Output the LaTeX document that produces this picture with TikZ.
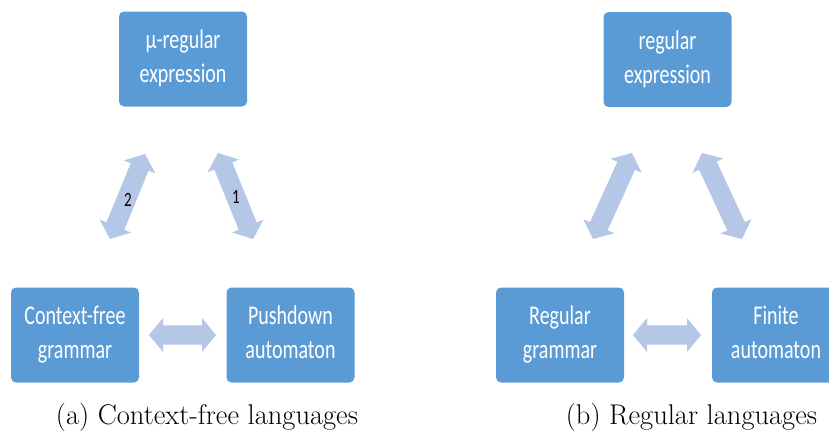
\documentclass[tikz,border=0pt]{standalone}
\usepackage{fontspec}
\usepackage{graphicx}
\newfontfamily\boxfont{Carlito}
\usetikzlibrary{calc}
\definecolor{boxblue}{HTML}{5B9BD5}
\definecolor{arrowblue}{HTML}{B4C7E7}

% two-headed block arrow between two named coordinates
\newcommand\twowayarrow[2]{%
  \fill[arrowblue] (#1)
    -- ($(#1)!14pt!(#2)!17pt!90:(#2)$)
    -- ($(#1)!14pt!(#2)!9.7pt!90:(#2)$)
    -- ($(#2)!14pt!(#1)!9.7pt!-90:(#1)$)
    -- ($(#2)!14pt!(#1)!17pt!-90:(#1)$)
    -- (#2)
    -- ($(#2)!14pt!(#1)!17pt!90:(#1)$)
    -- ($(#2)!14pt!(#1)!9.7pt!90:(#1)$)
    -- ($(#1)!14pt!(#2)!9.7pt!-90:(#2)$)
    -- ($(#1)!14pt!(#2)!17pt!-90:(#2)$)
    -- cycle;}

% two-line label set in a tall, narrow Calibri-like face
\newcommand\boxtext[1]{\scalebox{1}[1.35]{\boxfont\fontsize{20}{25.3}\selectfont
  \begin{tabular}{@{}c@{}}#1\end{tabular}}}
\newcommand\numlabel[1]{\scalebox{1}[1.35]{\boxfont\fontsize{15}{18}\selectfont #1}}

\tikzset{
  blockbox/.style={fill=boxblue, rounded corners=5pt, minimum width=128pt,
    minimum height=95pt, inner sep=0pt, text=white},
  caption/.style={anchor=base, inner sep=0pt, font=\fontsize{28.5}{34}\selectfont}
}

\begin{document}
\begin{tikzpicture}[x=1pt, y=-1pt]
\clip (0,0) rectangle (829,432);
\useasboundingbox (0,0) rectangle (829,432);

% ---- (a) context-free languages ----
\node[blockbox] (mure) at (183,59) {\boxtext{μ-regular\\expression}};
\node[blockbox] (cfg)  at (75,335) {\boxtext{Context-free\\grammar}};
\node[blockbox] (pda)  at (290.5,335) {\boxtext{Pushdown\\automaton}};

\coordinate (a2s) at (110,239);  \coordinate (a2e) at (145,154);
\coordinate (a1s) at (218,153);  \coordinate (a1e) at (253,239);
\coordinate (ahs) at (149,335);  \coordinate (ahe) at (216,335);
\twowayarrow{a2s}{a2e}
\twowayarrow{a1s}{a1e}
\twowayarrow{ahs}{ahe}
\node (lbltwo) at (128,200) {\numlabel{2}};
\node (lblone) at (236,197) {\numlabel{1}};

\node[caption] (capa) at (207,424) {(a) Context-free languages};

% ---- (b) regular languages ----
\node[blockbox] (re) at (667.5,59.5) {\boxtext{regular\\expression}};
\node[blockbox] (rg) at (560,335) {\boxtext{Regular\\grammar}};
\node[blockbox] (fa) at (776,335) {\boxtext{Finite\\automaton}};

\coordinate (b2s) at (593,239);  \coordinate (b2e) at (632,153);
\coordinate (b1s) at (702,153);  \coordinate (b1e) at (742,239);
\coordinate (bhs) at (633,335);  \coordinate (bhe) at (701,335);
\twowayarrow{b2s}{b2e}
\twowayarrow{b1s}{b1e}
\twowayarrow{bhs}{bhe}

\node[caption] (capb) at (691.5,424) {(b) Regular languages};
\end{tikzpicture}
\end{document}
